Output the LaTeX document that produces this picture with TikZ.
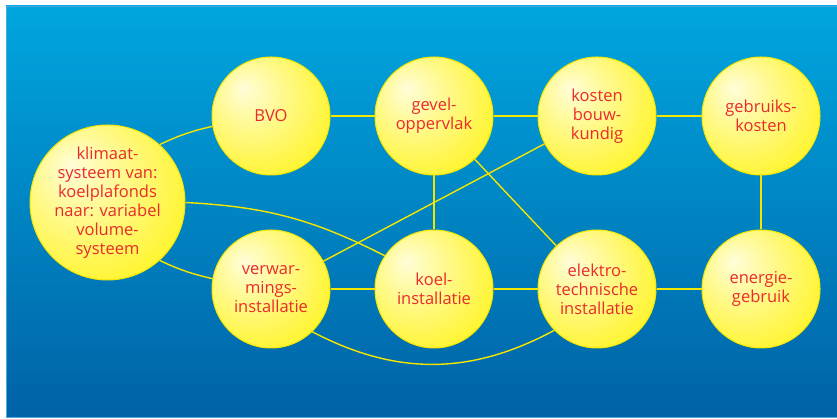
\documentclass[tikz,border=0pt]{standalone}
\usepackage{fontspec}
\setmainfont{Open Sans}
\definecolor{tekstrood}{HTML}{EA2A2E}
\definecolor{bolgeel}{HTML}{FFF200}
\definecolor{lijngeel}{HTML}{F5E600}
\definecolor{blauwboven}{HTML}{00A6DF}
\definecolor{blauwonder}{HTML}{0062A6}
\definecolor{randblauw}{HTML}{4FA8DC}
\pgfdeclareradialshading{bolvulling}{\pgfpoint{-12bp}{12bp}}{color(0bp)=(white!85!bolgeel); color(12bp)=(white!60!bolgeel); color(42bp)=(bolgeel); color(60bp)=(bolgeel)}

\begin{document}
\begin{tikzpicture}[x=1pt,y=1pt]
 \tikzstyle{bol}=[circle, draw=lijngeel, line width=1pt, shading=bolvulling, text=tekstrood, align=center, inner sep=0pt, minimum size=118pt, font=\fontsize{16.5}{19}\selectfont]
 \tikzstyle{verband}=[draw=lijngeel, line width=1.4pt]
 %
 \useasboundingbox (0,0) rectangle (837,419);
 \shadedraw[top color=blauwboven, bottom color=blauwonder, draw=randblauw, line width=0.8pt] (6,2) rectangle (837,413);
 %
 \node[bol] (bvo) at (271, 303) {BVO};
 \node[bol] (gevel) at (434, 303) {gevel-\\oppervlak};
 \node[bol] (kosten) at (597, 303) {kosten\\bouw-\\kundig};
 \node[bol] (gebruik) at (761, 303) {gebruiks-\\kosten};
 %
 \node[bol, minimum size=155pt] (klimaat) at (107.5, 216.5) {klimaat-\\systeem van:\\koelplafonds\\naar: variabel\\volume-\\systeem};
 %
 \node[bol] (verwarming) at (271, 130) {verwar-\\mings-\\installatie};
 \node[bol] (koel) at (434, 130) {koel-\\installatie};
 \node[bol] (elektro) at (597, 130) {elektro-\\technische\\installatie};
 \node[bol] (energie) at (761, 130) {energie-\\gebruik};
 %%
 \draw[verband] (klimaat.48) to[bend left=6] (bvo.190);
 \draw[verband] (klimaat.east) to[bend left=12] (koel.146);
 \draw[verband] (klimaat.312) to[bend right=6] (verwarming.170);
 \draw[verband] (bvo)--(gevel);
 \draw[verband] (gevel)--(kosten);
 \draw[verband] (kosten)--(gebruik);
 \draw[verband] (gebruik)--(energie);
 \draw[verband] (gevel)--(koel);
 \draw[verband] (gevel)--(elektro);
 \draw[verband] (kosten)--(verwarming);
 \draw[verband] (verwarming)--(koel);
 \draw[verband] (koel)--(elektro);
 \draw[verband] (elektro)--(energie);
 \draw[verband] (verwarming.314) to[bend right=28] (elektro.224);
\end{tikzpicture}
\end{document}
